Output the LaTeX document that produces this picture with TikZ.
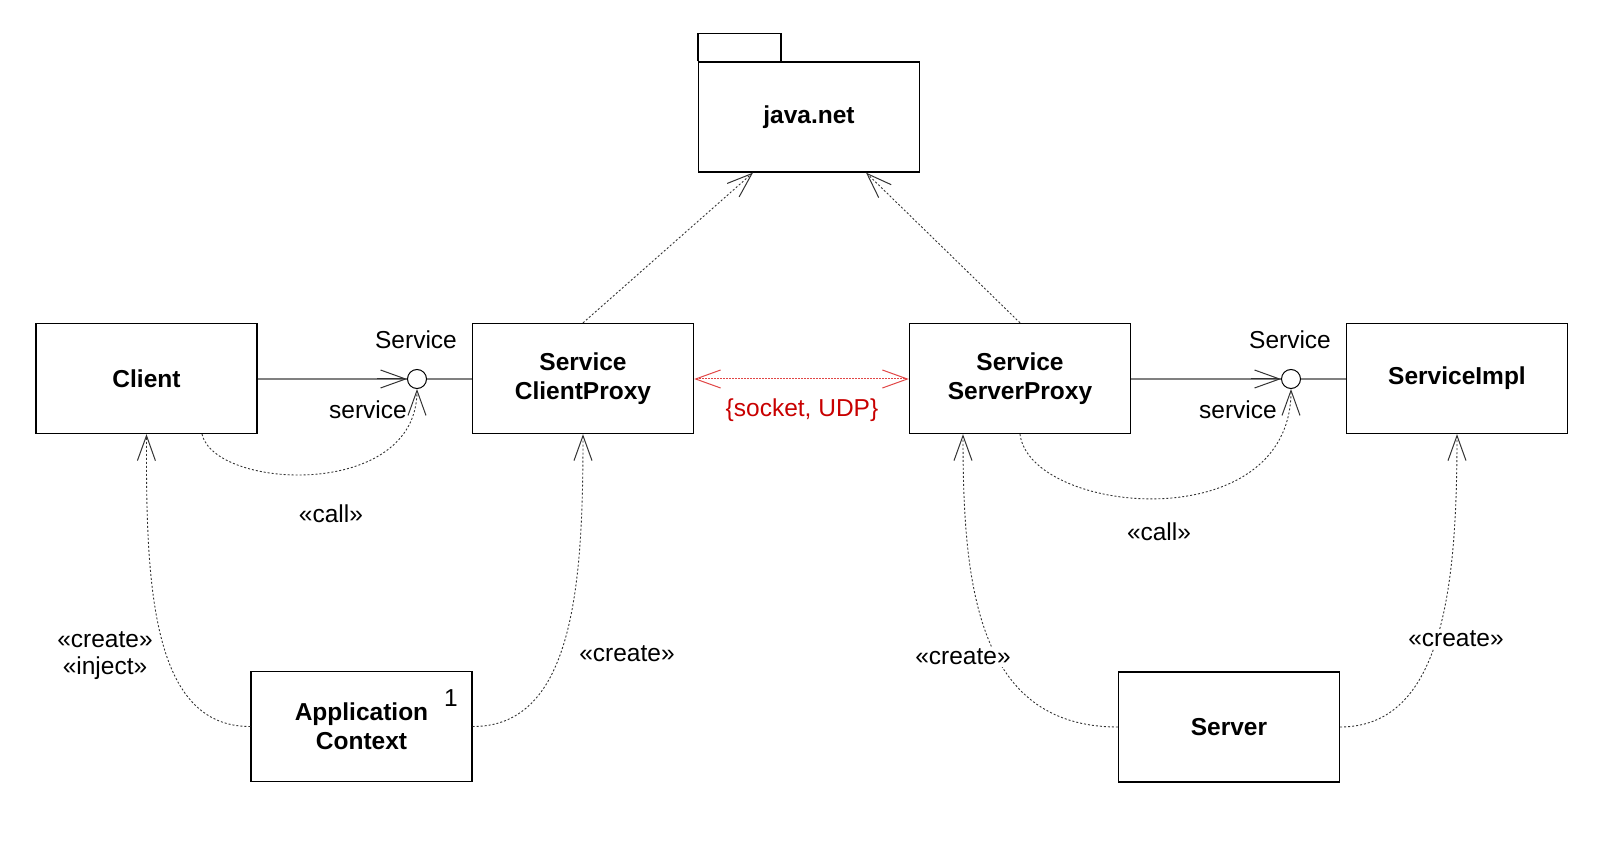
\documentclass[tikz,border=0pt]{standalone}
\usepackage{fontspec}
\setmainfont{Liberation Sans}
\usetikzlibrary{arrows.meta,calc}
\definecolor{linegray}{RGB}{128,128,128}
\definecolor{redline}{RGB}{225,70,70}
\definecolor{redtext}{RGB}{200,0,0}
\begin{document}
\begin{tikzpicture}[x=1pt,y=-1pt,
  box/.style={draw, line width=1.3pt, minimum width=221pt, minimum height=110pt, inner sep=0pt, align=center, font=\fontsize{24.5}{29}\selectfont\bfseries},
  lolli/.style={draw, circle, line width=1pt, minimum size=19pt, inner sep=0pt, fill=white},
  lbl/.style={font=\fontsize{24.5}{29}\selectfont, inner sep=0pt, align=center},
  cover/.style={lbl, fill=white, inner sep=2pt},
  tip/.style={-{Straight Barb[length=25pt,width=18pt,line width=1pt]}},
  solidcon/.style={draw=linegray, line width=2pt},
  dep/.style={line width=0.9pt, dash pattern=on 2pt off 2pt, draw=black!80},
]
\useasboundingbox (0,0) rectangle (1610,858);

% boxes
\node[box] (client) at (146.5,378.5) {Client};
\node[box] (cproxy) at (583,378.5) {Service\\ClientProxy};
\node[box] (sproxy) at (1020,378.5) {Service\\ServerProxy};
\node[box] (impl) at (1457,378.5) {ServiceImpl};
\node[box] (appctx) at (361.5,726.5) {Application\\Context};
\node[box] (server) at (1229,727) {Server};
\node[box] (jnet) at (809,117) {java.net};
\draw[line width=1.3pt] (jnet.north west) -- ++(0,-28) -- ++(83,0) -- ++(0,28);

% multiplicity
\node[lbl] (one) at (451,698) {1};

% interfaces
\node[lolli] (lc) at (417,379) {};
\node[lolli] (rc) at (1291,379) {};

\draw[solidcon] (lc.east) -- (lc.east -| cproxy.west);
\draw[solidcon] (rc.east) -- (rc.east -| impl.west);
\draw[solidcon] (lc.west -| client.east) -- (lc.west);
\draw[solidcon] (rc.west -| sproxy.east) -- (rc.west);
\draw[tip, line width=1pt, black!80] ([xshift=-30pt]lc.west) -- (lc.west);
\draw[tip, line width=1pt, black!80] ([xshift=-30pt]rc.west) -- (rc.west);

\node[lbl] (svcL) at (416,340) {Service};
\node[lbl] (svcl) at (368,410) {service};
\node[lbl] (svcR) at (1290,340) {Service};
\node[lbl] (svcr) at (1238,410) {service};

% call dependencies
\draw[dep, tip] ([xshift=55.5pt]client.south) .. controls (215,490) and (417,500) .. (lc.south);
\node[lbl] (callL) at (331,514) {«call»};
\draw[dep, tip] (sproxy.south) .. controls (1030,515) and (1291,540) .. (rc.south);
\node[lbl] (callR) at (1159,532) {«call»};

% java.net dependencies
\draw[dep, tip] (cproxy.north) -- ([xshift=-56pt]jnet.south);
\draw[dep, tip] (sproxy.north) -- ([xshift=57pt]jnet.south);

% socket
\draw[redline, line width=1pt, dash pattern=on 1.5pt off 1.5pt,
  {Straight Barb[length=25pt,width=18pt,line width=1pt]}-{Straight Barb[length=25pt,width=18pt,line width=1pt]}]
  (lc.east -| cproxy.east) -- (lc.east -| sproxy.west);
\node[lbl, text=redtext] (sock) at (802,410) {\{socket, UDP\}};

% create dependencies
\draw[dep, tip] (appctx.west) .. controls (150,727) and (146,580) .. (client.south);
\node[cover] (crL) at (105,640) {«create»};
\node[cover] (inj) at (105,668) {«inject»};
\draw[dep, tip] (appctx.east) .. controls (575,727) and (583,580) .. (cproxy.south);
\node[cover] (crC) at (627,654) {«create»};
\draw[dep, tip] (server.west) .. controls (975,727) and (963,580) .. ([xshift=-57pt]sproxy.south);
\node[cover] (crS) at (963,657) {«create»};
\draw[dep, tip] (server.east) .. controls (1445,727) and (1457,580) .. (impl.south);
\node[cover] (crI) at (1456,639) {«create»};
\end{tikzpicture}
\end{document}
